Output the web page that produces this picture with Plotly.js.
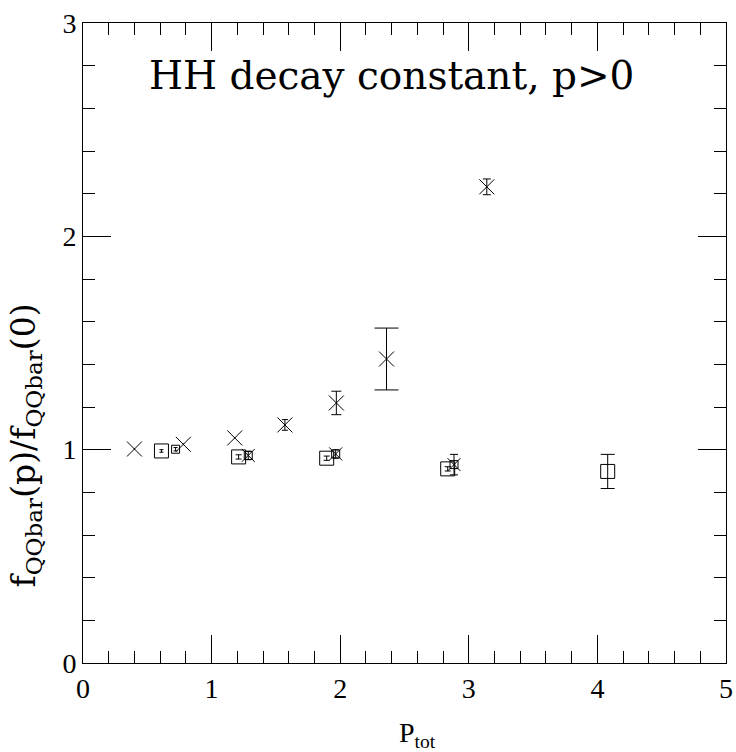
<!DOCTYPE html>
<html>
<head>
<meta charset="utf-8">
<script src="https://cdn.plot.ly/plotly-3.0.1.min.js"></script>
<style>html,body{margin:0;padding:0;background:#fff;}#chart{width:736px;height:752px;}</style>
</head>
<body>
<div id="chart"></div>
<script>
// Upper crosses
const crossX   = [0.40, 0.78, 1.18, 1.57, 1.97, 2.36, 3.14];
const crossY   = [1.003, 1.025, 1.055, 1.116, 1.219, 1.425, 2.232];
const crossErr = [0.004, 0.004, 0.004, 0.025, 0.055, 0.145, 0.037];
// Large squares
const sqX   = [0.61, 1.21, 1.895, 2.836, 4.08];
const sqY   = [0.994, 0.966, 0.960, 0.910, 0.898];
const sqErr = [0.006, 0.010, 0.010, 0.010, 0.080];
// Small squares
const smX   = [0.72, 1.285, 1.965, 2.885];
const smY   = [1.002, 0.973, 0.980, 0.930];
const smErr = [0.008, 0.020, 0.020, 0.048];
// Lower crosses
const lowX = [1.285, 1.965, 2.885];
const lowY = [0.973, 0.980, 0.930];
const xTicks = [0, 1, 2, 3, 4, 5];
const yTicks = [0, 1, 2, 3];

// style-only: cap half-widths per point
const crossCap = [0, 0, 0, 3, 5, 12, 4];
const sqCap = [2, 3, 3, 3, 7];
const smCap = [2, 3, 3, 4];

const traces = [];
function addSeries(xs, ys, es, caps, symbol, size) {
  xs.forEach((x, i) => {
    traces.push({
      type: 'scatter', mode: 'markers', x: [x], y: [ys[i]],
      marker: {symbol: symbol, size: size, color: '#000', line: {color: '#000', width: 1}},
      error_y: es ? {type: 'data', array: [es[i]], visible: true, color: '#000', thickness: 1, width: caps[i]} : undefined,
      showlegend: false, hoverinfo: 'skip'
    });
  });
}
addSeries(sqX, sqY, sqErr, sqCap, 'square-open', 14);
addSeries(smX, smY, smErr, smCap, 'square-open', 8);
addSeries(crossX, crossY, crossErr, crossCap, 'x-thin-open', 15);
addSeries(lowX, lowY, null, null, 'x-thin-open', 13);

const font = {family: 'Liberation Serif, DejaVu Serif, serif', color: '#000'};
const axisCommon = {
  showgrid: false, zeroline: false, showline: true, linecolor: '#000', linewidth: 1,
  mirror: 'allticks', ticks: 'inside', ticklen: 28, tickwidth: 1, tickcolor: '#000',
  tickfont: Object.assign({size: 28}, font),
  minor: {ticks: 'inside', ticklen: 12, tickwidth: 1, tickcolor: '#000', dtick: 0.2, showgrid: false}
};
const layout = {
  width: 736, height: 752,
  margin: {l: 83, r: 10, t: 23, b: 89},
  paper_bgcolor: '#fff', plot_bgcolor: '#fff',
  showlegend: false,
  xaxis: Object.assign({}, axisCommon, {
    range: [0, 5], tickmode: 'array', tickvals: xTicks, ticktext: xTicks.map(String)
  }),
  yaxis: Object.assign({}, axisCommon, {
    range: [0, 3], tickmode: 'array', tickvals: yTicks, ticktext: yTicks.map(String)
  }),
  annotations: [{
    text: 'HH decay constant, p>0', xref: 'paper', yref: 'paper', x: 0.48, y: 0.918,
    xanchor: 'center', yanchor: 'middle', showarrow: false,
    font: {family: 'DejaVu Serif, serif', color: '#000', size: 39}
  }, {
    text: 'P<sub>tot</sub>', xref: 'paper', yref: 'paper', x: 0.52, y: -0.111,
    xanchor: 'center', yanchor: 'middle', showarrow: false,
    font: Object.assign({size: 28}, font)
  }, {
    text: 'f<sub>QQbar</sub>(p)/f<sub>QQbar</sub>(0)', xref: 'paper', yref: 'paper', x: -0.09, y: 0.34,
    xanchor: 'center', yanchor: 'middle', textangle: -90, showarrow: false,
    font: {family: 'DejaVu Serif, serif', color: '#000', size: 33}
  }]
};
Plotly.newPlot('chart', traces, layout, {staticPlot: true, displayModeBar: false});
</script>
</body>
</html>
